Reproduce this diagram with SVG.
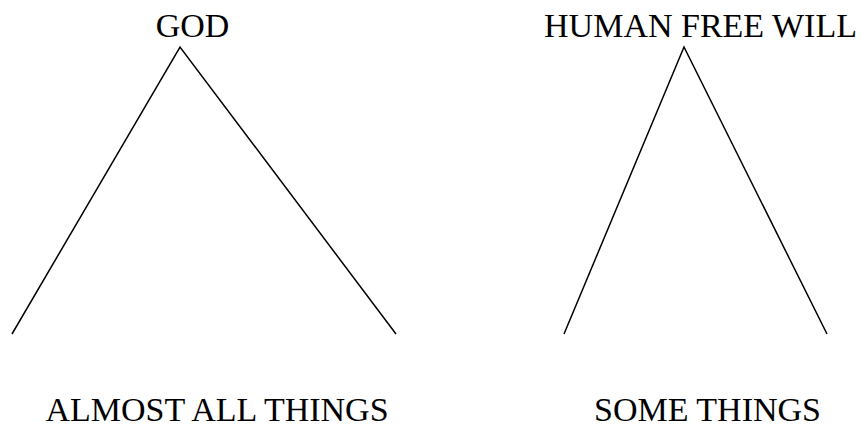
<svg xmlns="http://www.w3.org/2000/svg" width="861" height="427" viewBox="0 0 861 427">
<style>
.t{font-family:"Liberation Serif","Times New Roman",serif;font-size:34px;fill:#000;text-anchor:middle}
.c{stroke:#000;stroke-width:1.5;fill:none}
</style>
<rect width="861" height="427" fill="#fff"/>
<g id="connectors">
<polyline class="c" points="12,334 180,47 396,334"/>
<polyline class="c" points="564,334 684,47 827,334"/>
</g>
<g id="god"><text class="t" x="192.5" y="37">GOD</text></g>
<g id="free-will"><text class="t" x="700.5" y="37">HUMAN FREE WILL</text></g>
<g id="almost-all"><text class="t" x="217" y="421">ALMOST ALL THINGS</text></g>
<g id="some"><text class="t" x="707.5" y="421">SOME THINGS</text></g>
</svg>
